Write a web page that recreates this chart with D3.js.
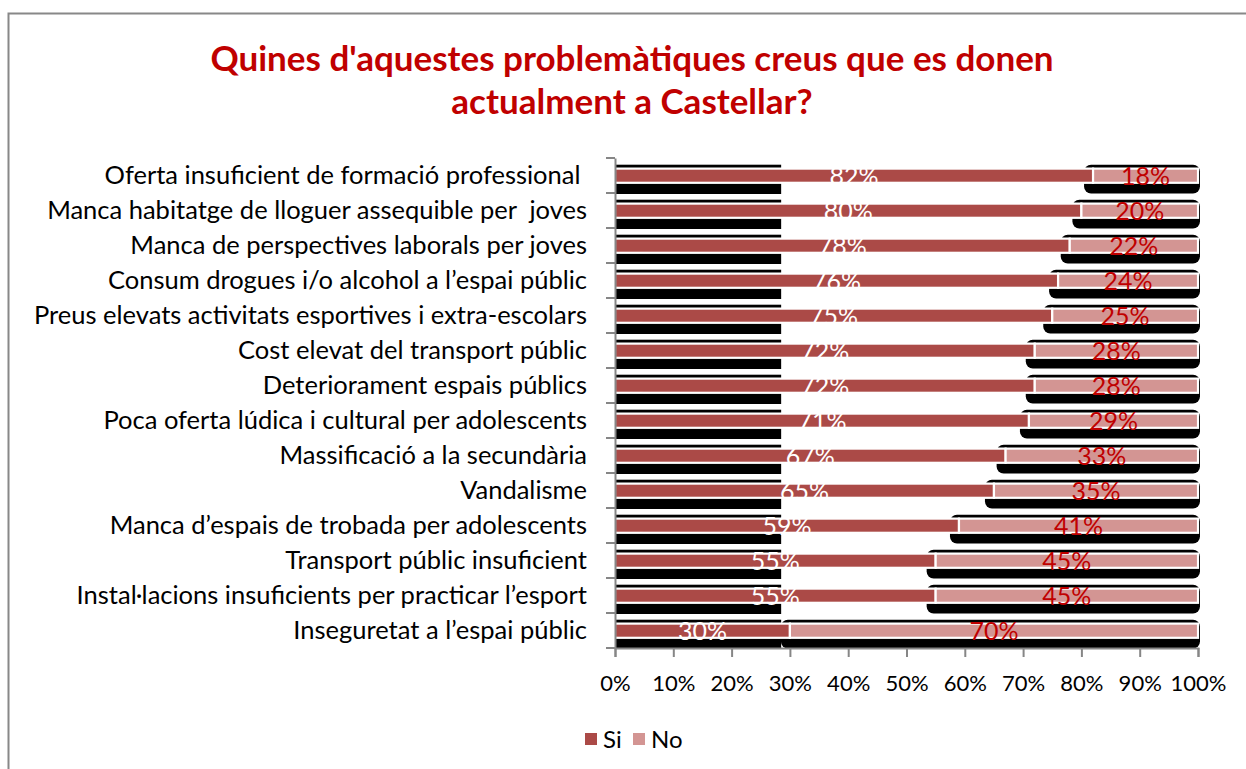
<!DOCTYPE html>
<html><head><meta charset="utf-8">
<script src="https://cdn.jsdelivr.net/npm/d3@7"></script>
<style>
html,body{margin:0;padding:0;background:#fff;}
svg{display:block;font-family:Lato, "Open Sans", sans-serif;}
</style></head>
<body><svg id="c" width="1246" height="769"></svg>
<script>
const categories = [
  "Oferta insuficient de formació professional ",
  "Manca habitatge de lloguer assequible per  joves",
  "Manca de perspectives laborals per joves",
  "Consum drogues i/o alcohol a l\u2019espai públic",
  "Preus elevats activitats esportives i extra-escolars",
  "Cost elevat del transport públic",
  "Deteriorament espais públics",
  "Poca oferta lúdica i cultural per adolescents",
  "Massificació a la secundària",
  "Vandalisme",
  "Manca d\u2019espais de trobada per adolescents",
  "Transport públic insuficient",
  "Instal·lacions insuficients per practicar l\u2019esport",
  "Inseguretat a l\u2019espai públic"
];
const siValues = [82,80,78,76,75,72,72,71,67,65,59,55,55,30];
const noValues = [18,20,22,24,25,28,28,29,33,35,41,45,45,70];
const seriesNames = ["Si","No"];
const xTicks = [0,10,20,30,40,50,60,70,80,90,100];
const titleLines = ["Quines d'aquestes problemàtiques creus que es donen","actualment a Castellar?"];

const colSi = "#ab4a47", colNo = "#d39593", titleCol = "#c00000";
const svg = d3.select("#c");

// frame
svg.append("rect").attr("x",8.5).attr("y",13.5).attr("width",1250).attr("height",770)
  .attr("fill","none").attr("stroke","#888").attr("stroke-width",2);

// title
svg.append("g").selectAll("text").data(titleLines).join("text")
  .attr("x",632).attr("y",(d,i)=>71+i*43)
  .attr("text-anchor","middle").attr("font-weight","bold").attr("font-size",35)
  .attr("fill",titleCol).text(d=>d);

const x = d3.scaleLinear().domain([0,100]).range([615,1198]);
const y = d3.scaleBand().domain(categories).range([158,648]).padding(0);
const bw = y.bandwidth();

const rows = categories.map((c,i)=>({c, si:siValues[i], no:noValues[i]}));

// black shadow artifacts
svg.append("g").selectAll("rect").data(rows).join("rect")
  .attr("x",x(0)).attr("y",d=>y(d.c)+6.7).attr("width",x(28.5)-x(0)).attr("height",29.3)
  .attr("fill","#000");
svg.append("g").selectAll("rect").data(rows).join("rect")
  .attr("x",d=>x(d.si)-9).attr("y",d=>y(d.c)+6.7).attr("width",d=>x(100)+2-(x(d.si)-9)).attr("height",28.8)
  .attr("rx",7).attr("ry",7).attr("fill","#000");

// bars
const barG = svg.append("g");
barG.selectAll("rect.si").data(rows).join("rect").attr("class","si")
  .attr("x",x(0)).attr("y",d=>y(d.c)+10.6).attr("width",d=>x(d.si)-x(0)).attr("height",14.2)
  .attr("fill",colSi).attr("stroke","#fff").attr("stroke-width",2.2);
barG.selectAll("rect.no").data(rows).join("rect").attr("class","no")
  .attr("x",d=>x(d.si)).attr("y",d=>y(d.c)+10.6).attr("width",d=>x(d.si+d.no)-x(d.si)).attr("height",14.2)
  .attr("fill",colNo).attr("stroke","#fff").attr("stroke-width",2.2);

// axes
const yAxis = svg.append("g").attr("transform","translate(615,0)")
  .call(d3.axisLeft(y).tickSize(0).tickFormat(""));
yAxis.select(".domain").attr("stroke","#868686").attr("stroke-width",2);
const bounds = categories.map(c=>y(c)).concat([648]);
svg.append("g").selectAll("line").data(bounds).join("line")
  .attr("x1",606).attr("x2",615).attr("y1",d=>d).attr("y2",d=>d)
  .attr("stroke","#868686").attr("stroke-width",2);

const xAxis = svg.append("g").attr("transform","translate(0,648)")
  .call(d3.axisBottom(x).tickValues(xTicks).tickSize(9).tickPadding(18).tickFormat(d=>d+"%"));
xAxis.select(".domain").attr("stroke","#868686").attr("stroke-width",2);
xAxis.selectAll(".tick line").attr("stroke","#868686").attr("stroke-width",2);
xAxis.selectAll(".tick text").attr("font-size",22).attr("fill","#000").attr("font-family","Lato");

// category labels
svg.append("g").selectAll("text").data(rows).join("text")
  .attr("x",587).attr("y",d=>y(d.c)+bw/2+8.5)
  .attr("text-anchor","end").attr("font-size",25.5).attr("fill","#000")
  .style("white-space","pre").text(d=>d.c);

// value labels
svg.append("g").selectAll("text").data(rows).join("text")
  .attr("x",d=>(x(0)+x(d.si))/2).attr("y",d=>y(d.c)+27)
  .attr("text-anchor","middle").attr("font-size",25).attr("fill","#fff").text(d=>d.si+"%");
svg.append("g").selectAll("text").data(rows).join("text")
  .attr("x",d=>(x(d.si)+x(100))/2).attr("y",d=>y(d.c)+27)
  .attr("text-anchor","middle").attr("font-size",25).attr("fill",titleCol).text(d=>d.no+"%");

// legend
const leg = svg.append("g").selectAll("g").data(seriesNames).join("g")
  .attr("transform",(d,i)=>`translate(${585+i*48},733)`);
leg.append("rect").attr("width",12).attr("height",12).attr("fill",(d,i)=>i?colNo:colSi);
leg.append("text").attr("x",18).attr("y",15).attr("font-size",24).text(d=>d);
</script></body></html>
